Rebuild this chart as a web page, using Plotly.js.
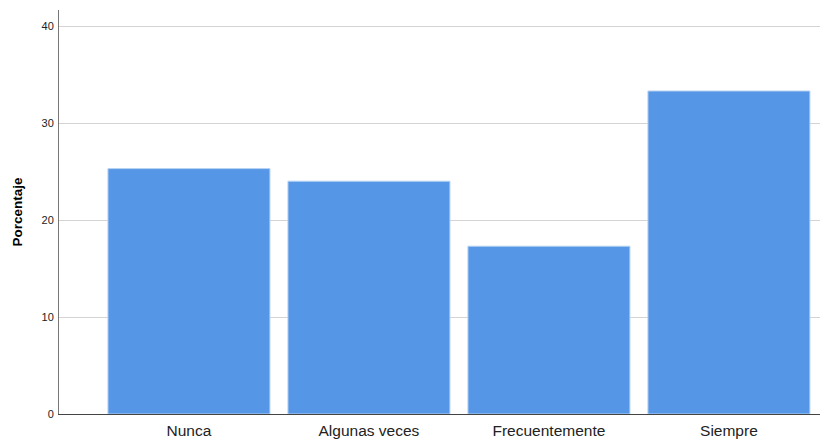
<!DOCTYPE html>
<html>
<head>
<meta charset="utf-8">
<script src="https://cdn.plot.ly/plotly-3.0.1.min.js"></script>
<style>html,body{margin:0;padding:0;background:#fff;}#chart{width:820px;height:440px;}</style>
</head>
<body>
<div id="chart"></div>
<script>
const categories = ["Nunca", "Algunas veces", "Frecuentemente", "Siempre"];
const percentages = [25.3, 24.0, 17.3, 33.3];
const yTicks = [0, 10, 20, 30, 40];

const trace = {
  type: "bar",
  x: categories,
  y: percentages,
  marker: { color: "#5596e6", line: { color: "#b7d2f3", width: 1 } },
  hoverinfo: "x+y"
};

const layout = {
  width: 820,
  height: 440,
  margin: { l: 59, r: 0, t: 10, b: 26, pad: 0 },
  paper_bgcolor: "#ffffff",
  plot_bgcolor: "#ffffff",
  bargap: 0.1,
  showlegend: false,
  font: { family: "Liberation Sans, Arial, sans-serif", color: "#222" },
  xaxis: {
    type: "category",
    range: [-0.722, 3.506],
    showgrid: false,
    showline: true,
    linecolor: "#444",
    linewidth: 1,
    ticks: "",
    tickfont: { size: 15.5, color: "#222" },
    ticklabelstandoff: 2,
    automargin: false,
    zeroline: false
  },
  yaxis: {
    range: [0, 41.65],
    tickvals: yTicks,
    ticktext: yTicks.map(String),
    showgrid: true,
    gridcolor: "#d4d4d4",
    gridwidth: 1,
    showline: true,
    linecolor: "#777",
    linewidth: 1,
    ticks: "",
    tickfont: { size: 11, color: "#222" },
    ticklabelstandoff: 2,
    zeroline: false,
    automargin: false,
    title: { text: "Porcentaje", font: { size: 13.5, color: "#000", weight: "bold" }, standoff: 15 }
  }
};

Plotly.newPlot("chart", [trace], layout, { displayModeBar: false, staticPlot: true });
</script>
</body>
</html>
